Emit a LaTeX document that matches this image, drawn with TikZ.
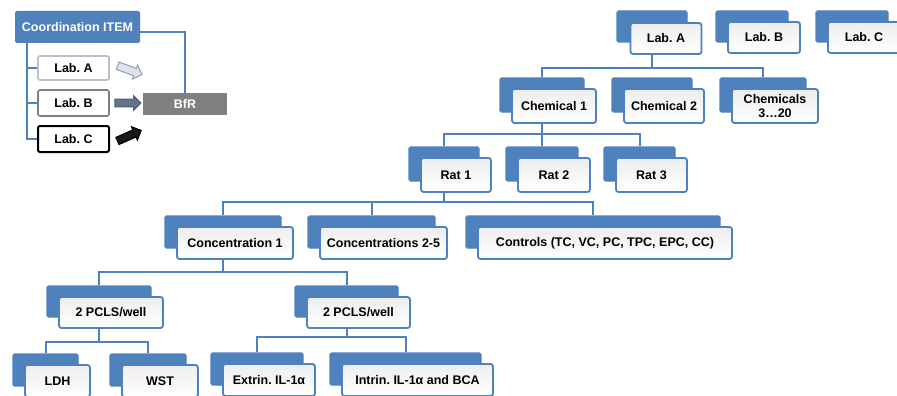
\documentclass[tikz,border=0pt]{standalone}
\usepackage{fontspec}
\setmainfont{Liberation Sans}
\usetikzlibrary{shapes.arrows, backgrounds}
\definecolor{itemblue}{RGB}{79,129,189}
\definecolor{bfrgray}{RGB}{128,128,128}
\definecolor{arrowgray}{RGB}{100,115,140}
\definecolor{arrowlight}{RGB}{222,226,234}
\frenchspacing

\begin{document}
\begin{tikzpicture}[x=1pt, y=-1pt,
    every node/.style={font=\fontsize{12.5}{13.5}\selectfont\bfseries},
    box/.style 2 args={minimum width=#1, minimum height=#2},
    back/.style={fill=itemblue, draw=itemblue, line width=1.2pt, rounded corners=1.5pt, inner sep=0pt},
    front/.style={top color=black!7, bottom color=white, draw=itemblue, line width=1.8pt,
                  rounded corners=2.5pt, inner sep=0pt, align=center},
    conn/.style={draw=itemblue, line width=2pt},
    lab/.style={fill=white, line width=1.6pt, rounded corners=2pt, minimum width=71, inner sep=0pt},
    blockarrow/.style={single arrow, minimum height=26, minimum width=14, inner sep=3.4pt,
                       single arrow head extend=3.5pt, line width=1pt}]
\useasboundingbox (0,0) rectangle (897,396);

% left panel
\node[fill=itemblue, text=white, rounded corners=2pt, box={125}{32}, inner sep=0pt] (coord) at (77.5,27) {Coordination ITEM};
\node[lab, draw=black!25, minimum height=24] (labAl) at (73.5,68) {Lab. A};
\node[lab, draw=black!50, minimum height=26] (labBl) at (73.5,103) {Lab. B};
\node[lab, draw=black, line width=2pt, minimum height=26] (labCl) at (73.5,139) {Lab. C};
\node[fill=bfrgray, text=white, box={84}{22}, inner sep=0pt] (bfr) at (185,104) {BfR};
\node[blockarrow, draw=arrowgray!70, fill=arrowlight, rotate=-20] (arrA) at (128,69.5) {};
\node[blockarrow, draw=arrowgray!80!black, fill=arrowgray] (arrB) at (126,103) {};
\node[blockarrow, draw=black, fill=black!90, rotate=24] (arrC) at (127.5,136.5) {};
\coordinate (trunk) at (27,43);
\draw[conn] (trunk) |- (labAl.west);
\draw[conn] (trunk) |- (labBl.west);
\draw[conn] (trunk) |- (labCl.west);
\draw[conn] ([yshift=-5pt]coord.east) -| (bfr.north);

% labs
\node[back, box={70}{31}] (labAb) at (652,26.5) {};
\node[front, box={71}{31}] (labA) at ([shift={(14,12)}]labAb) {Lab. A};
\node[back, box={72}{31}] (labBb) at (752,26.5) {};
\node[front, box={72}{31}] (labB) at ([shift={(12,11)}]labBb) {Lab. B};
\node[back, box={72}{31}] (labCb) at (852,26.5) {};
\node[front, box={72}{31}] (labC) at ([shift={(12,11)}]labCb) {Lab. C};

% chemicals
\node[back, box={84}{34}] (chem1b) at (542,95) {};
\node[front, box={84}{34}] (chem1) at ([shift={(12,11)}]chem1b) {Chemical 1};
\node[back, box={80}{34}] (chem2b) at (652,95) {};
\node[front, box={80}{34}] (chem2) at ([shift={(12,11)}]chem2b) {Chemical 2};
\node[back, box={86}{34}] (chemsb) at (763,95) {};
\node[front, box={86}{34}] (chems) at ([shift={(12,11)}]chemsb) {Chemicals\\3…20};

% rats
\node[back, box={70}{34}] (rat1b) at (444,164) {};
\node[front, box={70}{34}] (rat1) at ([shift={(12,11)}]rat1b) {Rat 1};
\node[back, box={72}{34}] (rat2b) at (542,164) {};
\node[front, box={72}{34}] (rat2) at ([shift={(12,11)}]rat2b) {Rat 2};
\node[back, box={71}{34}] (rat3b) at (639.5,164) {};
\node[front, box={71}{34}] (rat3) at ([shift={(12,11)}]rat3b) {Rat 3};

% concentrations
\node[back, box={116}{32}] (conc1b) at (223,232) {};
\node[front, box={116}{32}] (conc1) at ([shift={(12,11)}]conc1b) {Concentration 1};
\node[back, box={127}{32}] (conc25b) at (371.5,232) {};
\node[front, box={127}{32}] (conc25) at ([shift={(12,11)}]conc25b) {Concentrations 2-5};
\node[back, box={254}{32}] (ctrlb) at (593,232) {};
\node[front, box={254}{32}] (ctrl) at ([shift={(12,11)}]ctrlb) {Controls (TC, VC, PC, TPC, EPC, CC)};

% wells
\node[back, box={104}{31}] (pclsLb) at (99,301.5) {};
\node[front, box={104}{31}] (pclsL) at ([shift={(12,11)}]pclsLb) {2 PCLS/well};
\node[back, box={103}{31}] (pclsRb) at (346.5,301.5) {};
\node[front, box={103}{31}] (pclsR) at ([shift={(12,11)}]pclsRb) {2 PCLS/well};

% assays
\node[back, box={65}{32}] (ldhb) at (45.5,370) {};
\node[front, box={65}{32}] (ldh) at ([shift={(12,11)}]ldhb) {LDH};
\node[back, box={76}{32}] (wstb) at (148,370) {};
\node[front, box={76}{32}] (wst) at ([shift={(12,11)}]wstb) {WST};
\node[back, box={92}{32}] (extrb) at (257,369) {};
\node[front, box={92}{32}] (extr) at ([shift={(12,11)}]extrb) {Extrin. IL-1α};
\node[back, box={151}{32}] (intrb) at (405.5,369) {};
\node[front, box={151}{32}] (intr) at ([shift={(12,11)}]intrb) {Intrin. IL-1α and BCA};

\coordinate (busA) at (0,68);
\coordinate (busC) at (0,134);
\coordinate (busR) at (0,202);
\coordinate (busK) at (0,272);
\coordinate (busL) at (0,342);
\coordinate (busW) at (0,337);

\begin{scope}[on background layer]
\draw[conn] (labAb.center) -- (labAb.center |- busA);
\draw[conn] (chem1b.north) |- (chemsb.north |- busA) -- (chemsb.north);
\draw[conn] (chem1b.center) -- (chem1b.center |- busC);
\draw[conn] (rat1b.north) |- (rat3b.north |- busC) -- (rat3b.north);
\draw[conn] (rat2b.north) -- (rat2b.north |- busC);
\draw[conn] (rat1b.center) -- (rat1b.center |- busR);
\draw[conn] (conc1b.north) |- (ctrlb.north |- busR) -- (ctrlb.north);
\draw[conn] (conc25b.north) -- (conc25b.north |- busR);
\draw[conn] (conc1b.center) -- (conc1b.center |- busK);
\draw[conn] (pclsLb.north) |- (pclsRb.north |- busK) -- (pclsRb.north);
\draw[conn] (pclsLb.center) -- (pclsLb.center |- busL);
\draw[conn] (ldhb.north) |- (wstb.north |- busL) -- (wstb.north);
\draw[conn] (pclsRb.center) -- (pclsRb.center |- busW);
\draw[conn] (extrb.north) |- (intrb.north |- busW) -- (intrb.north);
\end{scope}
\end{tikzpicture}
\end{document}
